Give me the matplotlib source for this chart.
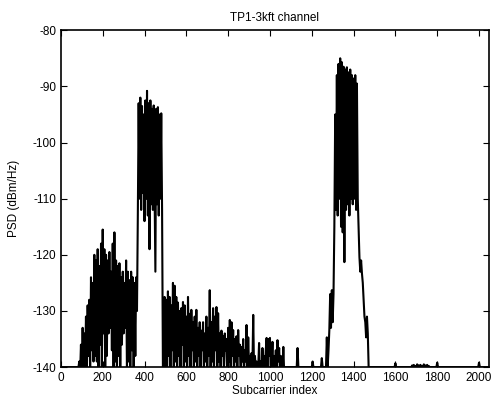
import numpy as np
import matplotlib.pyplot as plt

plt.rcParams['font.family'] = ['Liberation Sans', 'DejaVu Sans']
plt.rcParams['axes.unicode_minus'] = False

# PSD (dBm/Hz), one value every 4 subcarriers, per stretch
step = 4

floor_start = 0
floor_lo = [-140] * 22

noise_start = 88
noise_lo = [-139, -141, -136, -142, -133, -141, -134, -140, -131, -142,
            -129, -138, -128, -141, -124, -137, -125, -139, -120, -138,
            -121, -139, -119, -140, -122, -136, -118, -141, -115.5, -134,
            -119, -142, -120, -138, -121, -134, -119.5, -133, -123, -137,
            -118, -141, -116, -139, -121, -142, -122, -138, -121.5, -141,
            -124, -136, -123, -134, -125, -133, -121, -141, -123, -139,
            -124.5, -142, -123, -137, -124, -141, -125, -138, -124, -130]

band1_start = 368
band1 = [-113, -93, -110, -92, -112, -93.5, -109, -95, -114, -92.5,
         -110, -90.8, -113, -93, -119, -92.5, -111, -94, -112, -93.4,
         -109, -123, -94, -111, -93.7, -113, -95, -110, -94.8, -112,
         -140]

noise_mid_start = 492
noise_mid = [-141, -127.5, -140, -128, -142, -126.5, -138, -127.5, -141, -129,
             -137, -125, -141, -125.5, -139, -127.5, -142, -128.5, -138, -130,
             -141, -129.5, -136, -128.4, -141, -129, -139, -131, -142, -127.5,
             -138, -130.5, -141, -129.8, -137, -132, -141, -131, -139, -129.8,
             -142, -133, -138, -132, -141, -133.5, -137, -132, -141, -134,
             -139, -131, -142, -133, -138, -126.3, -141, -132, -139, -129.5,
             -142, -131, -137, -129.3, -141, -130.4, -139, -134, -142, -133.5,
             -138, -134.5, -141, -134, -137, -135, -142, -133, -139, -131.6,
             -141, -132, -138, -133.4, -142, -135, -139, -134.5, -141, -133.4,
             -138, -136, -142, -136.4, -139, -135, -141, -137, -139, -132.5,
             -142, -134.7, -140, -138, -141, -137.5, -140, -130.7, -141, -138,
             -140, -139, -141, -140, -135.7, -141, -139, -142, -136.6, -140,
             -138, -141, -137, -134.8, -141, -135, -138, -134.8, -141, -139,
             -135.5, -141, -138, -140, -137, -141, -135.2, -139, -136.6, -141,
             -138, -140, -141, -136.4, -141]

gap_start = 1072
gap = [-140] * 15 + [-136.6] + [-140] * 17 + [-139] + [-140] * 10 + [-138.4] + [-140] * 5

rise2_start = 1272
rise2 = [-134.7, -140, -137, -133.4, -127, -133, -126.3, -132, -127, -115]

band2_start = 1312
band2 = [-95, -112, -88, -113, -86, -110, -85, -115, -85.7, -116,
         -86.5, -121.3, -87, -112, -86.6, -111, -87.5, -113, -87, -110,
         -88, -111, -88.6, -110, -88, -112, -89.5]

fall2_start = 1420
fall2 = [-110, -115, -120.4, -123, -121, -123.3, -125, -128, -131, -132,
         -134.7, -131, -134, -140]

floor_hi_start = 1476
floor_hi = ([-140] * 31 + [-139.3] + [-140] * 19
            + [-139.7, -140, -139.6, -140, -139.8, -140, -139.5, -140, -139.7, -140,
               -139.6, -140, -139.8, -140, -139.5, -140, -139.7, -140, -139.6, -140, -139.8]
            + [-140] * 9 + [-139.2] + [-140] * 49 + [-139.2] + [-140] * 11)

segments = [(floor_start, floor_lo), (noise_start, noise_lo), (band1_start, band1),
            (noise_mid_start, noise_mid), (gap_start, gap), (rise2_start, rise2),
            (band2_start, band2), (fall2_start, fall2), (floor_hi_start, floor_hi)]

sub = np.concatenate([np.arange(s, s + step * len(v), step) for s, v in segments])
psd = np.concatenate([np.array(v, dtype=float) for s, v in segments])

fig = plt.figure(figsize=(4.95, 4.03), dpi=100)
ax = fig.add_axes([0.123, 0.089, 0.865, 0.836])
ax.plot(sub, psd, color='black', linewidth=1.5)

ax.set_xlim(0, 2048)
ax.set_ylim(-140, -80)
ax.set_xticks(np.arange(0, 2001, 200))
ax.set_yticks(np.arange(-140, -79, 10))
ax.tick_params(direction='in', top=True, right=True, length=4, labelsize=8.5)
for sp in ax.spines.values():
    sp.set_linewidth(1.2)

ax.set_title('TP1-3kft channel', fontsize=8.5, pad=7)
ax.set_xlabel('Subcarrier index', fontsize=8.5, labelpad=1)
ax.set_ylabel('PSD (dBm/Hz)', fontsize=8.5, labelpad=9)

fig.savefig('out.png', dpi=100)
